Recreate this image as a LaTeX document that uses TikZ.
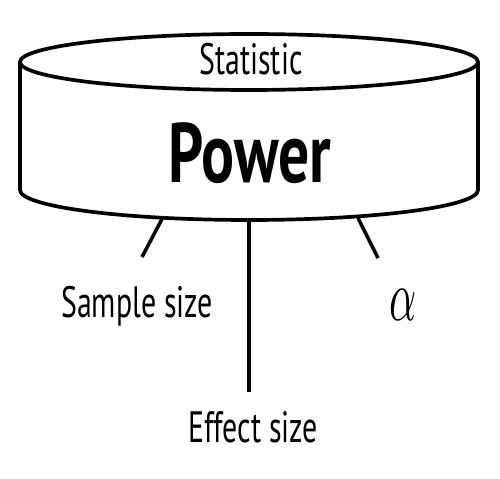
\documentclass[tikz,border=0pt]{standalone}
\usepackage{fontspec}
\setmainfont{PT Sans}
\usetikzlibrary{positioning}

\begin{document}
\begin{tikzpicture}[
    x=0.02cm,
    y=-0.02cm,
    rim/.style={
        line width=2.1pt,
        draw=black
    },
    leg/.style={
        line width=2pt,
        draw=black
    },
    lbl/.style={
        font=\fontsize{25}{30}\selectfont,
        xscale=0.68,
        inner sep=0pt,
        anchor=base
    },
    bigword/.style={
        font=\fontsize{48}{56}\selectfont\bfseries,
        xscale=0.73,
        inner sep=0pt,
        anchor=base
    }
]
\useasboundingbox (0,0) rectangle (500,479);

% Beczka
\draw[rim] (20,62) -- (20,190) arc[start angle=180, delta angle=-180, x radius=229, y radius=30] -- (478,62);
\draw[rim] (249,62) ellipse[x radius=229, y radius=28];

\node[lbl] (stat) at (251,75) {Statistic};
\node[bigword] (power) at (250,183) {Power};

% Nogi
\coordinate (sampleTop) at (162,219);
\coordinate (sampleEnd) at (142,257);
\coordinate (effectTop) at (249,220);
\coordinate (effectEnd) at (249,392);
\coordinate (alphaTop) at (358,218);
\coordinate (alphaEnd) at (378,258);

\draw[leg] (sampleTop) -- (sampleEnd);
\draw[leg] (effectTop) -- (effectEnd);
\draw[leg] (alphaTop) -- (alphaEnd);

% Etykiety
\node[lbl] (sample) at (137,317) {Sample size};
\node[lbl] (effect) at (253,442) {Effect size};
\node[inner sep=0pt, anchor=base, font=\normalsize, xscale=2.4, yscale=4.1] (alpha) at (403,320) {$\alpha$};

\end{tikzpicture}
\end{document}
